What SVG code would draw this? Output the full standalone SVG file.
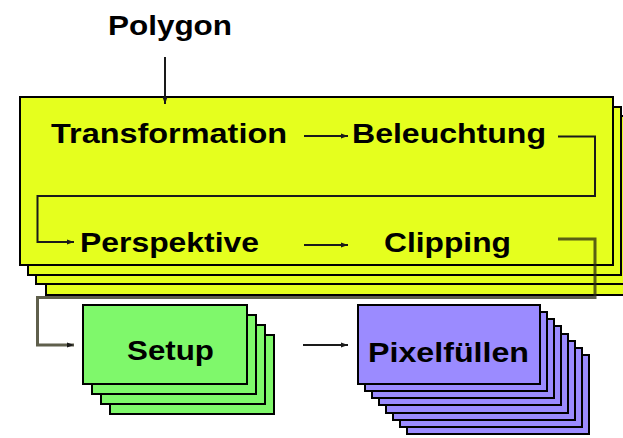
<svg xmlns="http://www.w3.org/2000/svg" width="623" height="438" viewBox="0 0 623 438">
<defs>
<style>
.t{font-family:"Liberation Sans",Arial,sans-serif;font-weight:bold;font-size:28px;fill:#000}
.y{fill:#e5ff1e;stroke:#000;stroke-width:2}
.g{fill:#7ff86b;stroke:#000;stroke-width:2}
.p{fill:#9b8bff;stroke:#000;stroke-width:2}
.c{fill:none;stroke:#1a1a1a;stroke-width:2}
.c2{fill:none;stroke:#2a2a10;stroke-opacity:0.75;stroke-width:3}
</style>
<marker id="ah" markerUnits="userSpaceOnUse" markerWidth="8" markerHeight="6" refX="7" refY="3" orient="auto">
<path d="M0,0.5 L7,3 L0,5.5 z" fill="#1a1a1a"/>
</marker>
</defs>
<rect width="623" height="438" fill="#fff"/>
<g id="polygon-label">
<text class="t" x="108" y="35" font-size="29" textLength="124" lengthAdjust="spacingAndGlyphs">Polygon</text>
</g>
<g id="geometry-stack">
<rect class="y" x="46" y="127" width="593" height="168"/>
<rect class="y" x="36" y="116" width="593" height="168"/>
<rect class="y" x="28" y="107" width="593" height="168"/>
<rect class="y" x="20" y="97" width="593" height="168"/>
</g>
<g id="transformation"><text class="t" x="51" y="143" textLength="236" lengthAdjust="spacingAndGlyphs">Transformation</text></g>
<g id="beleuchtung"><text class="t" x="352" y="143" textLength="194" lengthAdjust="spacingAndGlyphs">Beleuchtung</text></g>
<g id="perspektive"><text class="t" x="80" y="252" textLength="179" lengthAdjust="spacingAndGlyphs">Perspektive</text></g>
<g id="clipping"><text class="t" x="384" y="252" textLength="127" lengthAdjust="spacingAndGlyphs">Clipping</text></g>
<g id="setup">
<rect class="g" x="110" y="335" width="164" height="79"/>
<rect class="g" x="101" y="325" width="164" height="79"/>
<rect class="g" x="92" y="315" width="164" height="79"/>
<rect class="g" x="83" y="305" width="164" height="79"/>
<text class="t" x="127" y="360" textLength="87" lengthAdjust="spacingAndGlyphs">Setup</text>
</g>
<g id="pixelfuellen">
<rect class="p" x="407" y="355" width="182" height="79"/>
<rect class="p" x="400" y="348" width="182" height="79"/>
<rect class="p" x="393" y="341" width="182" height="79"/>
<rect class="p" x="386" y="334" width="182" height="79"/>
<rect class="p" x="379" y="326" width="182" height="79"/>
<rect class="p" x="372" y="319" width="182" height="79"/>
<rect class="p" x="365" y="312" width="182" height="79"/>
<rect class="p" x="358" y="305" width="182" height="79"/>
<text class="t" x="368" y="362" textLength="161" lengthAdjust="spacingAndGlyphs">Pixelfüllen</text>
</g>
<g id="connectors">
<path class="c" d="M165,57 V104" marker-end="url(#ah)"/>
<path class="c" d="M304,136 H348" marker-end="url(#ah)"/>
<path class="c" d="M558,136.5 H595 V196 H37.5 V242 H74" marker-end="url(#ah)"/>
<path class="c" d="M304,245 H348" marker-end="url(#ah)"/>
<path class="c2" d="M558,239 H595 V297.5 H37.5 V345 H74" marker-end="url(#ah)"/>
<path class="c" d="M303,345 H348" marker-end="url(#ah)"/>
</g>
</svg>
